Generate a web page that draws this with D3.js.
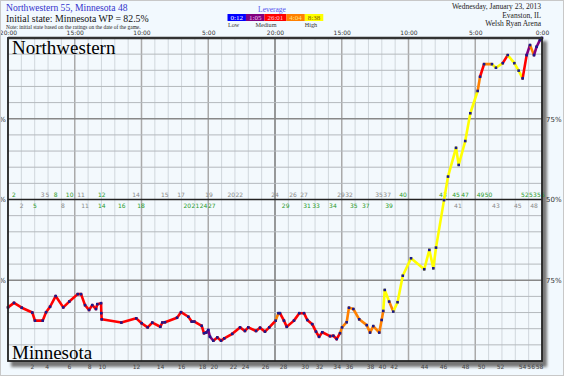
<!DOCTYPE html>
<html>
<head>
<meta charset="utf-8">
<script src="https://cdn.jsdelivr.net/npm/d3@7"></script>
<style>
  body { margin: 0; background: #f2f9fe; }
  svg text { font-family: "DejaVu Sans", sans-serif; }
  .serif { font-family: "Liberation Serif", "Times New Roman", serif; }
</style>
</head>
<body>
<svg id="chart" width="564" height="376"></svg>
<script>
// game clock labels along the top (every 5 minutes of the 40 minute game)
const clockTicks = [0, 5, 10, 15, 20, 25, 30, 35, 40];
const clockLabels = ["20:00", "15:00", "10:00", "5:00", "20:00", "15:00", "10:00", "5:00", "0:00"];

// Northwestern win probability (%) by elapsed minute
const times = [0, 0.45, 1.03, 1.82, 2.02, 2.60, 2.85, 3.15, 3.57, 4.14,
  4.59, 5.22, 5.47, 5.77, 6.07, 6.31, 6.59, 6.69, 6.97, 6.99,
  7.02, 8.49, 9.61, 10.01, 10.46, 10.81, 11.41, 11.56, 11.76, 12.66,
  12.96, 13.51, 13.76, 13.96, 14.51, 14.68, 14.85, 15.00, 15.13, 15.38,
  15.68, 15.96, 16.20, 16.80, 17.38, 17.75, 18.00, 18.58, 18.88, 19.25,
  19.57, 20.05, 20.25, 20.37, 20.67, 20.88, 21.42, 21.82, 22.17, 22.42,
  22.79, 23.07, 23.30, 23.54, 24.12, 24.37, 24.62, 24.87, 25.02, 25.37,
  25.54, 25.87, 26.31, 26.87, 27.12, 27.36, 27.81, 27.99, 28.11, 28.22,
  28.55, 28.86, 29.18, 29.57, 30.19, 31.18, 31.56, 31.86, 32.06, 32.66,
  32.96, 33.56, 33.76, 34.25, 34.63, 35.18, 35.36, 35.66, 36.25, 36.55,
  37.06, 37.43, 37.93, 38.25, 38.55, 38.85, 39.10, 39.40, 39.60, 39.85, 40];
const nwWP = [16.6, 18.0, 16.5, 15.0, 12.5, 12.5, 15.1, 16.8, 20.1, 16.6,
  18.4, 20.7, 20.7, 17.3, 15.8, 17.3, 16.1, 17.6, 17.9, 14.8,
  12.9, 11.9, 13.2, 11.7, 10.4, 11.9, 10.6, 11.9, 12.0, 13.4,
  15.1, 13.7, 12.2, 12.2, 10.9, 8.6, 8.8, 9.6, 7.5, 6.3,
  7.3, 6.3, 7.0, 8.4, 10.4, 9.3, 10.4, 9.3, 10.3, 9.1,
  10.4, 12.5, 14.8, 14.8, 12.5, 10.6, 12.5, 14.8, 14.8, 12.7,
  11.4, 9.1, 7.5, 8.9, 7.7, 7.8, 6.8, 8.6, 10.4, 12.0,
  16.5, 16.1, 12.9, 11.1, 8.8, 10.8, 8.8, 12.7, 15.5, 22.0,
  18.4, 15.3, 18.2, 26.4, 31.8, 28.4, 34.4, 28.7, 35.1, 49.8,
  57.1, 66.0, 60.7, 68.1, 76.7, 83.6, 88.0, 91.9, 91.9, 90.8,
  92.2, 94.7, 92.2, 89.9, 87.5, 94.7, 97.8, 94.7, 97.3, 99.4, 100];
// leverage level of each segment (0 low .. 4 high)
const leverage = [2, 2, 2, 2, 2, 2, 2, 2, 2, 2, 2, 2, 2, 2, 2, 2, 2, 2, 2, 2,
  2, 2, 2, 2, 2, 2, 2, 2, 2, 2, 2, 2, 2, 2, 2, 2, 1, 1, 1, 2,
  2, 2, 2, 2, 2, 2, 2, 2, 2, 2, 2, 3, 3, 2, 2, 2, 2, 2, 2, 2,
  2, 2, 2, 2, 2, 2, 2, 3, 3, 3, 3, 3, 3, 3, 3, 3, 3, 3, 4, 4,
  3, 4, 4, 4, 4, 4, 4, 4, 4, 4, 4, 4, 4, 4, 4, 3, 2, 3, 4, 4,
  2, 4, 4, 4, 2, 1, 3, 1, 1, 1];

// legend
const levelColors = ["#0000ff", "#800080", "#ff0000", "#ff8000", "#ffff00"];
const levelTextColors = ["#ffffff", "#f0c0f0", "#ffd0d0", "#ffe080", "#806000"];
const levelTimes = ["0:12", "1:05", "26:01", "4:04", "8:38"];

// event counter along the bottom
const eventNums = [2, 4, 6, 8, 10, 12, 14, 16, 18, 20, 22, 24, 26, 28, 30,
  32, 34, 36, 38, 40, 42, 44, 46, 48, 50, 52, 54, 56, 58];
const eventTimes = [1.80, 2.90, 4.57, 6.07, 7.02, 9.59, 11.39, 12.96, 14.53, 15.41,
  16.85, 17.75, 19.25, 20.60, 22.22, 23.30, 24.62, 25.54, 27.12, 28.01,
  28.89, 31.16, 32.58, 34.23, 35.43, 36.85, 38.50, 39.15, 39.78];

// running scores (made field goals green, free throws gray)
const nwScores = ["2", "3", "5", "8", "10", "11", "12", "14", "15", "17", "19", "20", "22",
  "24", "26", "27", "29", "32", "35", "37", "40", "43", "45", "47", "49", "50", "52", "53", "55"];
const nwScoreTimes = [0.45, 2.60, 2.95, 3.57, 4.62, 5.47, 7.02, 9.59, 11.74, 12.96, 15.06, 16.72, 17.32,
  20.0, 21.35, 22.17, 24.95, 25.55, 27.8, 28.4, 29.59, 32.58, 33.56, 34.23, 35.4, 36.0, 38.72, 39.32, 39.92];
const nwScoreFG = [1, 0, 0, 1, 1, 0, 1, 0, 0, 0, 0, 0, 0,
  0, 0, 0, 0, 0, 0, 0, 1, 1, 1, 1, 1, 1, 1, 1, 1];
const mnScores = ["2", "5", "8", "11", "14", "16", "18", "20", "21", "24", "27",
  "29", "31", "33", "34", "35", "37", "39", "41", "43", "45", "48"];
const mnScoreTimes = [1.03, 2.02, 4.12, 5.77, 7.02, 8.52, 9.96, 13.43, 14.04, 14.65, 15.26,
  20.8, 22.4, 23.07, 24.34, 25.9, 26.8, 28.54, 33.7, 36.55, 38.18, 39.4];
const mnScoreFG = [0, 1, 0, 0, 1, 1, 1, 1, 1, 1, 1,
  1, 1, 1, 1, 1, 1, 1, 0, 0, 0, 0];

const svg = d3.select("#chart");
const W = 564, H = 376;
const plotL = 8, plotR = 542, plotT = 38, plotB = 361;

const x = d3.scaleLinear().domain([0, 40]).range([plotL, plotR]);
const y = d3.scaleLinear().domain([0, 100]).range([plotB, plotT]);

svg.append("rect").attr("width", W).attr("height", H).attr("fill", "#f2f9fe");

// drop shadow behind the plot
const defs = svg.append("defs");
defs.append("filter").attr("id", "blur").append("feGaussianBlur").attr("stdDeviation", 1.5);
svg.append("rect")
  .attr("x", plotL + 3).attr("y", plotT + 3)
  .attr("width", plotR - plotL + 2).attr("height", plotB - plotT + 3)
  .attr("fill", "#777").attr("filter", "url(#blur)");
svg.append("rect")
  .attr("x", plotL).attr("y", plotT)
  .attr("width", plotR - plotL).attr("height", plotB - plotT)
  .attr("fill", "#f3f9fd");

// grid
const grid = svg.append("g");
grid.selectAll(".vminor").data(d3.range(1, 40)).enter().append("line")
  .attr("x1", d => x(d)).attr("x2", d => x(d))
  .attr("y1", plotT).attr("y2", plotB)
  .attr("stroke", d => d === 20 ? "#777" : (d % 5 === 0 ? "#aaa" : "#d0d7dc"))
  .attr("stroke-width", d => d % 5 === 0 ? 1.5 : 1);
grid.selectAll(".hline").data(d3.range(5, 100, 5)).enter().append("line")
  .attr("x1", plotL).attr("x2", plotR)
  .attr("y1", d => y(d)).attr("y2", d => y(d))
  .attr("stroke", d => d === 50 ? "#222" : (d === 25 || d === 75 ? "#888" : "#b4b9bd"))
  .attr("stroke-width", d => d === 50 ? 1.5 : (d === 25 || d === 75 ? 1.5 : 1));

// top clock axis
const topAxis = svg.append("g")
  .attr("transform", `translate(0,${plotT})`)
  .call(d3.axisTop(x).tickValues(clockTicks).tickFormat((d, i) => clockLabels[i]).tickSize(0).tickPadding(3));
topAxis.select(".domain").remove();
topAxis.selectAll("text").attr("font-size", 6).attr("fill", "#333").style("font-family", "DejaVu Sans");

// right / left percentage axes
const pctFmt = d => (d < 50 ? 100 - d : d) + "%";
const rightAxis = svg.append("g")
  .attr("transform", `translate(${plotR},0)`)
  .call(d3.axisRight(y).tickValues([25, 50, 75]).tickFormat(pctFmt).tickSize(0).tickPadding(4));
rightAxis.select(".domain").remove();
rightAxis.selectAll("text").attr("font-size", 7).attr("fill", "#333").style("font-family", "DejaVu Sans");
const leftAxis = svg.append("g")
  .attr("transform", `translate(${plotL},0)`)
  .call(d3.axisLeft(y).tickValues([25, 50, 75]).tickFormat(pctFmt).tickSize(0).tickPadding(2));
leftAxis.select(".domain").remove();
leftAxis.selectAll("text").attr("font-size", 7).attr("fill", "#333").style("font-family", "DejaVu Sans");

// bottom event counter
const bottomAxis = svg.append("g")
  .attr("transform", `translate(0,${plotB})`)
  .call(d3.axisBottom(x).tickValues(eventTimes).tickFormat((d, i) => eventNums[i]).tickSize(0).tickPadding(4));
bottomAxis.select(".domain").remove();
bottomAxis.selectAll("text").attr("font-size", 6).attr("fill", "#444").style("font-family", "DejaVu Sans");

// score markers along the 50% line
svg.selectAll(".nwscore").data(nwScores).enter().append("text")
  .attr("x", (d, i) => x(nwScoreTimes[i])).attr("y", y(50) - 3)
  .attr("text-anchor", "middle").attr("font-size", 6)
  .attr("fill", (d, i) => nwScoreFG[i] ? "#2a9a2a" : "#888")
  .text(d => d);
svg.selectAll(".mnscore").data(mnScores).enter().append("text")
  .attr("x", (d, i) => x(mnScoreTimes[i])).attr("y", y(50) + 8)
  .attr("text-anchor", "middle").attr("font-size", 6)
  .attr("fill", (d, i) => mnScoreFG[i] ? "#2a9a2a" : "#888")
  .text(d => d);

// team labels
svg.append("text").attr("class", "serif").attr("x", 12).attr("y", 54)
  .attr("font-size", 19).attr("fill", "#000").text("Northwestern");
svg.append("text").attr("class", "serif").attr("x", 12).attr("y", 359)
  .attr("font-size", 19).attr("fill", "#000").text("Minnesota");

// win probability line, coloured by leverage
const pts = times.map((t, i) => ({ t: t, wp: nwWP[i] }));
const segs = pts.slice(1).map((p, i) => ({ a: pts[i], b: p, lev: leverage[i] }));
svg.append("g").selectAll("line").data(segs).enter().append("line")
  .attr("x1", d => x(d.a.t)).attr("y1", d => y(d.a.wp))
  .attr("x2", d => x(d.b.t)).attr("y2", d => y(d.b.wp))
  .attr("stroke", d => levelColors[d.lev])
  .attr("stroke-width", 2.6)
  .attr("stroke-linecap", "round");
svg.append("g").selectAll("rect").data(pts).enter().append("rect")
  .attr("x", d => x(d.t) - 1.3).attr("y", d => y(d.wp) - 1.3)
  .attr("width", 2.6).attr("height", 2.6)
  .attr("fill", "#1a1a8c");

// plot frame
svg.append("rect")
  .attr("x", plotL).attr("y", plotT)
  .attr("width", plotR - plotL).attr("height", plotB - plotT)
  .attr("fill", "none").attr("stroke", "#222").attr("stroke-width", 1.8);
svg.append("line").attr("x1", plotL).attr("x2", plotR).attr("y1", plotT).attr("y2", plotT)
  .attr("stroke", "#333").attr("stroke-width", 2.5);

// headings
svg.append("text").attr("class", "serif").attr("x", 6).attr("y", 11)
  .attr("font-size", 9.6).attr("fill", "#3333cc").text("Northwestern 55, Minnesota 48");
svg.append("text").attr("class", "serif").attr("x", 6).attr("y", 22)
  .attr("font-size", 9.8).attr("fill", "#111").text("Initial state: Minnesota WP = 82.5%");
svg.append("text").attr("class", "serif").attr("x", 6).attr("y", 28.5)
  .attr("font-size", 5.4).attr("fill", "#222").text("Note: initial state based on the ratings on the date of the game.");

const info = ["Wednesday, January 23, 2013", "Evanston, IL", "Welsh Ryan Arena"];
svg.selectAll(".info").data(info).enter().append("text")
  .attr("class", "serif").attr("x", 541).attr("y", (d, i) => 9 + i * 8.7)
  .attr("text-anchor", "end").attr("font-size", 7.5).attr("fill", "#222")
  .text(d => d);

// leverage legend
const lg = svg.append("g");
lg.append("text").attr("class", "serif").attr("x", 272).attr("y", 11.6)
  .attr("text-anchor", "middle").attr("font-size", 7.5).attr("fill", "#5555ee").text("Leverage");
let lx = 227.5;
levelTimes.forEach((t, i) => {
  const tx = lg.append("text").attr("class", "serif").attr("y", 20)
    .attr("font-size", 7).attr("fill", levelTextColors[i]).text(t);
  const w = tx.node().getComputedTextLength() + 6;
  lg.insert("rect", "text").attr("x", lx).attr("y", 14).attr("width", w).attr("height", 7)
    .attr("fill", levelColors[i]);
  tx.attr("x", lx + 3).raise();
  lx += w;
});
const lgLabels = [["Low", 228, "start"], ["Medium", 266, "middle"], ["High", 311, "middle"]];
lg.selectAll(".lvl").data(lgLabels).enter().append("text")
  .attr("class", "serif").attr("x", d => d[1]).attr("y", 26.5)
  .attr("text-anchor", d => d[2]).attr("font-size", 6.2).attr("fill", "#333")
  .text(d => d[0]);

// outer border
svg.append("rect").attr("x", 0.5).attr("y", 0.5).attr("width", W - 1).attr("height", H - 1)
  .attr("fill", "none").attr("stroke", "#c8c8c8");
</script>
</body>
</html>
